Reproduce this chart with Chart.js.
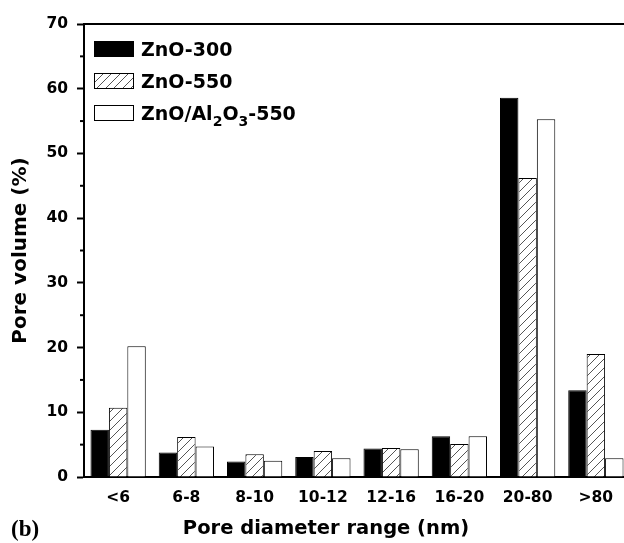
<!DOCTYPE html>
<html lang="en">
<head>
    <meta charset="UTF-8">
    <title>Pore volume distribution</title>
    <script src="https://cdn.jsdelivr.net/npm/chart.js"></script>
    <style>
        html, body {
            margin: 0;
            padding: 0;
            overflow: hidden;
            background: #fff;
        }
        .frame {
            position: relative;
            width: 624px;
            height: 543px;
            overflow: hidden;
            font-family: 'DejaVu Sans', sans-serif;
            font-weight: bold;
            color: #000;
        }
        #poreChart {
            position: absolute;
            left: 0;
            top: 0;
        }
        .legend {
            position: absolute;
            left: 94px;
            top: 33px;
            font-size: 19px;
        }
        .legend-row {
            display: flex;
            align-items: center;
            height: 32px;
        }
        .swatch {
            width: 38px;
            height: 14px;
            border: 1px solid #000;
            margin-right: 7px;
            background: #fff;
        }
        .swatch.solid { background: #000; }
        .swatch.hatch {
            background: repeating-linear-gradient(135deg, #fff 0px, #fff 5px, #555 5px, #555 6px);
        }
        .legend sub { font-size: 14px; vertical-align: -6px; line-height: 0; }
        .x-title {
            position: absolute;
            left: 326px;
            top: 516px;
            transform: translateX(-50%);
            font-size: 19.5px;
            white-space: nowrap;
        }
        .panel {
            position: absolute;
            left: 11px;
            top: 516px;
            font-family: 'Liberation Serif', serif;
            font-size: 23px;
        }
    </style>
</head>
<body>
<div class="frame">
    <canvas id="poreChart" width="630" height="543"></canvas>
    <div class="legend">
        <div class="legend-row"><span class="swatch solid"></span><span>ZnO-300</span></div>
        <div class="legend-row"><span class="swatch hatch"></span><span>ZnO-550</span></div>
        <div class="legend-row"><span class="swatch"></span><span>ZnO/Al<sub>2</sub>O<sub>3</sub>-550</span></div>
    </div>
    <div class="x-title">Pore diameter range (nm)</div>
    <div class="panel">(b)</div>
</div>
<script>
  // pore volume (%) per diameter range
  const ranges = ['<6', '6-8', '8-10', '10-12', '12-16', '16-20', '20-80', '>80'];
  const zno300 = [7.3, 3.8, 2.4, 3.1, 4.4, 6.3, 58.6, 13.4];
  const zno550 = [10.7, 6.2, 3.5, 4.0, 4.5, 5.1, 46.2, 19.0];
  const znoAl550 = [20.2, 4.7, 2.5, 2.9, 4.3, 6.3, 55.3, 2.9];

  const tickFont = { family: 'DejaVu Sans', size: 15.5, weight: 'bold' };

  var canvas = document.getElementById('poreChart');
  var ctx = canvas.getContext('2d');

  // diagonal hatch for the ZnO-550 bars
  var tile = document.createElement('canvas');
  tile.width = 9;
  tile.height = 9;
  var t = tile.getContext('2d');
  t.fillStyle = '#fff';
  t.fillRect(0, 0, 9, 9);
  t.strokeStyle = '#555';
  t.lineWidth = 1;
  t.beginPath();
  t.moveTo(0, 9); t.lineTo(9, 0);
  t.moveTo(-1, 1); t.lineTo(1, -1);
  t.moveTo(8, 10); t.lineTo(10, 8);
  t.stroke();
  var hatch = ctx.createPattern(tile, 'repeat');

  // short minor ticks between the labelled ones
  const minorTicks = {
    id: 'minorTicks',
    afterDraw(chart) {
      const y = chart.scales.y;
      const c = chart.ctx;
      c.save();
      c.strokeStyle = '#000';
      c.lineWidth = 2;
      y.ticks.forEach(tk => {
        if (tk.value % 10 !== 0) {
          const py = y.getPixelForValue(tk.value);
          c.beginPath();
          c.moveTo(y.right - 4, py);
          c.lineTo(y.right, py);
          c.stroke();
        }
      });
      c.restore();
    }
  };

  var poreChart = new Chart(ctx, {
    type: 'bar',
    data: {
      labels: ranges,
      datasets: [{
        label: 'ZnO-300',
        data: zno300,
        backgroundColor: '#000',
        borderColor: '#000',
        borderWidth: 1
      }, {
        label: 'ZnO-550',
        data: zno550,
        backgroundColor: hatch,
        borderColor: '#000',
        borderWidth: 1
      }, {
        label: 'ZnO/Al2O3-550',
        data: znoAl550,
        backgroundColor: '#fff',
        borderColor: '#000',
        borderWidth: 1
      }]
    },
    options: {
      responsive: false,
      animation: false,
      layout: { padding: { left: 4, top: 24, right: 0, bottom: 0 } },
      datasets: {
        bar: { categoryPercentage: 0.81, barPercentage: 1 }
      },
      plugins: {
        legend: { display: false },
        tooltip: { enabled: false }
      },
      scales: {
        x: {
          type: 'category',
          offset: true,
          grid: { display: false, drawTicks: false },
          border: { display: true, color: '#000', width: 2 },
          ticks: { font: tickFont, color: '#000', padding: 12, maxRotation: 0, autoSkip: false },
          afterFit: s => { s.height = 66; }
        },
        x2: {
          type: 'category',
          position: 'top',
          offset: true,
          grid: { display: false, drawTicks: false },
          border: { display: true, color: '#000', width: 2 },
          ticks: { display: false },
          afterFit: s => { s.height = 0; }
        },
        y: {
          min: 0,
          max: 70,
          ticks: {
            stepSize: 5,
            font: tickFont,
            color: '#000',
            padding: 9,
            callback: v => (v % 10 === 0 ? v : '')
          },
          grid: {
            drawOnChartArea: false,
            tickLength: 7,
            tickWidth: 2,
            tickColor: c => (c.tick && c.tick.value % 10 === 0 ? '#000' : 'rgba(0,0,0,0)')
          },
          border: { display: true, color: '#000', width: 2 },
          title: {
            display: true,
            text: 'Pore volume (%)',
            color: '#000',
            font: { family: 'DejaVu Sans', size: 20, weight: 'bold' },
            padding: { top: 5, bottom: 0 }
          },
          afterFit: s => { s.width = 80; }
        }
      }
    },
    plugins: [minorTicks]
  });
</script>
</body>
</html>
